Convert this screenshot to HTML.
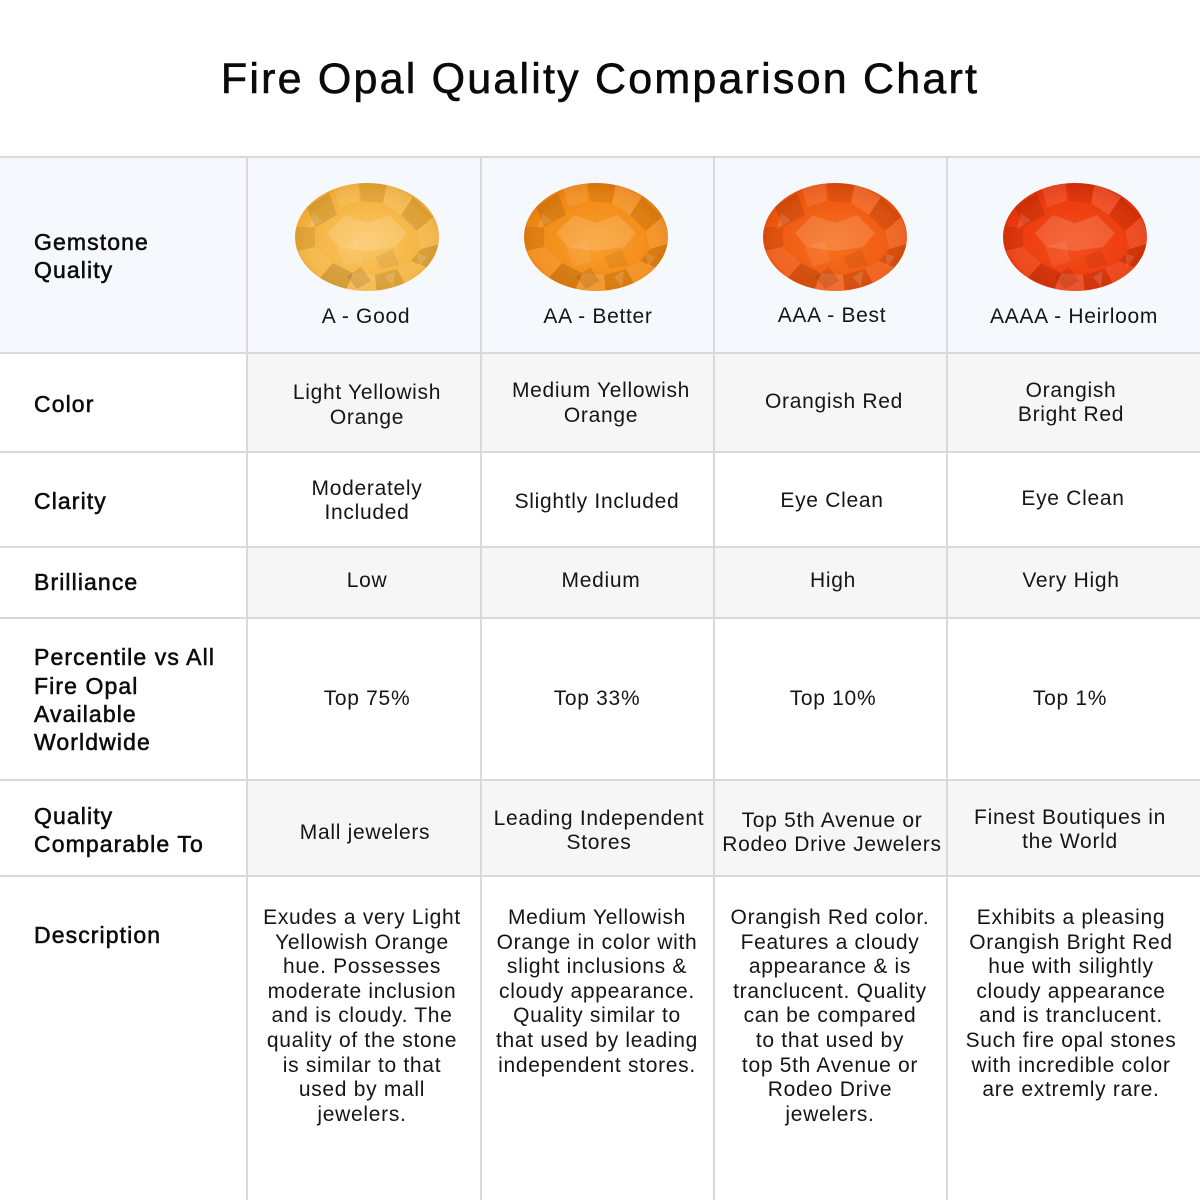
<!DOCTYPE html>
<html><head><meta charset="utf-8">
<style>
html,body{margin:0;padding:0;background:#fff;}
#w{position:relative;width:1200px;height:1200px;overflow:hidden;background:#fff;font-family:"Liberation Sans",sans-serif;color:#111;}
.bg{position:absolute;}
.h{position:absolute;left:0;width:1200px;height:2px;background:#d9d9d9;}
.v{position:absolute;top:156px;width:2px;height:1044px;background:#d9d9d9;}
.t{position:absolute;width:320px;height:24px;line-height:24px;text-align:center;font-size:21px;letter-spacing:0.7px;white-space:nowrap;color:#151515;}
.l{position:absolute;left:34px;height:28px;line-height:28px;font-size:23px;letter-spacing:1.1px;white-space:nowrap;color:#0c0c0c;-webkit-text-stroke:0.55px #0c0c0c;}
#title{position:absolute;left:0;top:54px;width:1200px;height:50px;line-height:50px;text-align:center;font-size:43px;letter-spacing:2.2px;color:#0a0a0a;-webkit-text-stroke:0.6px #0a0a0a;white-space:nowrap;}
</style></head>
<body><div id="w">
<div id="title">Fire Opal Quality Comparison Chart</div>

<div class="bg" style="left:0;top:157px;width:1200px;height:196px;background:#f5f8fd;"></div>
<div class="bg" style="left:247px;top:353px;width:953px;height:99px;background:#f6f6f6;"></div>
<div class="bg" style="left:247px;top:547px;width:953px;height:71px;background:#f6f6f6;"></div>
<div class="bg" style="left:247px;top:780px;width:953px;height:96px;background:#f6f6f6;"></div>

<div class="h" style="top:156px"></div>
<div class="h" style="top:352px"></div>
<div class="h" style="top:451px"></div>
<div class="h" style="top:546px"></div>
<div class="h" style="top:617px"></div>
<div class="h" style="top:779px"></div>
<div class="h" style="top:875px"></div>
<div class="v" style="left:246px"></div>
<div class="v" style="left:480px"></div>
<div class="v" style="left:713px"></div>
<div class="v" style="left:946px"></div>

<svg style="position:absolute;left:0;top:0" width="1200" height="400" viewBox="0 0 1200 400">
<defs>
<radialGradient id="g1" cx="50%" cy="55%" r="62%"><stop offset="0" stop-color="#fbc866"/><stop offset="0.7" stop-color="#f4b23e"/><stop offset="1" stop-color="#e39f28"/></radialGradient>
<radialGradient id="g2" cx="50%" cy="55%" r="62%"><stop offset="0" stop-color="#f9a030"/><stop offset="0.7" stop-color="#f28a14"/><stop offset="1" stop-color="#e0740a"/></radialGradient>
<radialGradient id="g3" cx="50%" cy="55%" r="62%"><stop offset="0" stop-color="#f6721f"/><stop offset="0.7" stop-color="#ef5810"/><stop offset="1" stop-color="#dc4608"/></radialGradient>
<radialGradient id="g4" cx="50%" cy="55%" r="62%"><stop offset="0" stop-color="#f4501c"/><stop offset="0.7" stop-color="#ec3a0c"/><stop offset="1" stop-color="#d52a06"/></radialGradient>
<clipPath id="cp"><ellipse cx="0" cy="0" rx="72" ry="54"/></clipPath>
<g id="fac" clip-path="url(#cp)">
<polygon points="-60,-30 -38,-44 -30,-22 -52,-10" fill="#000" opacity="0.10"/>
<polygon points="-34,-52 -10,-56 -8,-36 -28,-30" fill="#fff" opacity="0.10"/>
<polygon points="-8,-56 20,-54 16,-34 -6,-36" fill="#000" opacity="0.07"/>
<polygon points="20,-54 46,-40 34,-22 16,-34" fill="#fff" opacity="0.12"/>
<polygon points="46,-40 66,-20 50,-6 34,-22" fill="#000" opacity="0.09"/>
<polygon points="66,-20 76,6 54,12 50,-6" fill="#fff" opacity="0.10"/>
<polygon points="76,6 64,32 44,24 54,12" fill="#000" opacity="0.11"/>
<polygon points="64,32 40,50 30,32 44,24" fill="#fff" opacity="0.08"/>
<polygon points="40,50 10,58 8,38 30,32" fill="#000" opacity="0.10"/>
<polygon points="10,58 -22,56 -14,36 8,38" fill="#fff" opacity="0.12"/>
<polygon points="-22,56 -48,42 -34,26 -14,36" fill="#000" opacity="0.12"/>
<polygon points="-48,42 -70,14 -52,10 -34,26" fill="#fff" opacity="0.08"/>
<polygon points="-70,14 -74,-10 -52,-10 -52,10" fill="#000" opacity="0.08"/>
<polygon points="-40,-4 -22,-22 0,-14 22,-22 40,-4 28,10 0,14 -28,10" fill="#fff" opacity="0.14"/>
<polygon points="-30,10 -10,4 -4,24 -22,30" fill="#fff" opacity="0.08"/>
<polygon points="8,20 26,12 32,28 14,32" fill="#000" opacity="0.06"/>
<polygon points="-20,40 -6,30 4,44 -10,52" fill="#000" opacity="0.10"/>
<polygon points="18,40 28,34 26,50" fill="#fff" opacity="0.14"/>
<polygon points="-54,-24 -44,-16 -58,-8" fill="#fff" opacity="0.12"/>
<polygon points="50,16 60,20 52,30" fill="#fff" opacity="0.12"/>
</g>
</defs>
<g transform="translate(367,237)"><ellipse rx="72" ry="54" fill="url(#g1)"/><use href="#fac"/></g>
<g transform="translate(596,237)"><ellipse rx="72" ry="54" fill="url(#g2)"/><use href="#fac"/></g>
<g transform="translate(835,237)"><ellipse rx="72" ry="54" fill="url(#g3)"/><use href="#fac"/></g>
<g transform="translate(1075,237)"><ellipse rx="72" ry="54" fill="url(#g4)"/><use href="#fac"/></g>
</svg>

<!-- labels -->
<div class="l" style="top:228px">Gemstone</div>
<div class="l" style="top:256px">Quality</div>
<div class="l" style="top:390px">Color</div>
<div class="l" style="top:487px">Clarity</div>
<div class="l" style="top:568px">Brilliance</div>
<div class="l" style="top:643px">Percentile vs All</div>
<div class="l" style="top:672px">Fire Opal</div>
<div class="l" style="top:700px">Available</div>
<div class="l" style="top:728px">Worldwide</div>
<div class="l" style="top:802px">Quality</div>
<div class="l" style="top:830px">Comparable To</div>
<div class="l" style="top:921px">Description</div>

<!-- header grades -->
<div class="t" style="left:206px;top:305px">A - Good</div>
<div class="t" style="left:438px;top:305px">AA - Better</div>
<div class="t" style="left:672px;top:304px">AAA - Best</div>
<div class="t" style="left:914px;top:305px">AAAA - Heirloom</div>

<!-- color -->
<div class="t" style="left:207px;top:381px">Light Yellowish</div>
<div class="t" style="left:207px;top:406px">Orange</div>
<div class="t" style="left:441px;top:379px">Medium Yellowish</div>
<div class="t" style="left:441px;top:404px">Orange</div>
<div class="t" style="left:674px;top:390px">Orangish Red</div>
<div class="t" style="left:911px;top:379px">Orangish</div>
<div class="t" style="left:911px;top:403px">Bright Red</div>

<!-- clarity -->
<div class="t" style="left:207px;top:477px">Moderately</div>
<div class="t" style="left:207px;top:501px">Included</div>
<div class="t" style="left:437px;top:490px">Slightly Included</div>
<div class="t" style="left:672px;top:489px">Eye Clean</div>
<div class="t" style="left:913px;top:487px">Eye Clean</div>

<!-- brilliance -->
<div class="t" style="left:207px;top:569px">Low</div>
<div class="t" style="left:441px;top:569px">Medium</div>
<div class="t" style="left:673px;top:569px">High</div>
<div class="t" style="left:911px;top:569px">Very High</div>

<!-- percentile -->
<div class="t" style="left:207px;top:687px">Top 75%</div>
<div class="t" style="left:437px;top:687px">Top 33%</div>
<div class="t" style="left:673px;top:687px">Top 10%</div>
<div class="t" style="left:910px;top:687px">Top 1%</div>

<!-- quality comparable -->
<div class="t" style="left:205px;top:821px">Mall jewelers</div>
<div class="t" style="left:439px;top:807px">Leading Independent</div>
<div class="t" style="left:439px;top:831px">Stores</div>
<div class="t" style="left:672px;top:809px">Top 5th Avenue or</div>
<div class="t" style="left:672px;top:833px">Rodeo Drive Jewelers</div>
<div class="t" style="left:910px;top:806px">Finest Boutiques in</div>
<div class="t" style="left:910px;top:830px">the World</div>

<!-- description col1 -->
<div class="t" style="left:202px;top:906px">Exudes a very Light</div>
<div class="t" style="left:202px;top:931px">Yellowish Orange</div>
<div class="t" style="left:202px;top:955px">hue. Possesses</div>
<div class="t" style="left:202px;top:980px">moderate inclusion</div>
<div class="t" style="left:202px;top:1004px">and is cloudy. The</div>
<div class="t" style="left:202px;top:1029px">quality of the stone</div>
<div class="t" style="left:202px;top:1054px">is similar to that</div>
<div class="t" style="left:202px;top:1078px">used by mall</div>
<div class="t" style="left:202px;top:1103px">jewelers.</div>

<!-- description col2 -->
<div class="t" style="left:437px;top:906px">Medium Yellowish</div>
<div class="t" style="left:437px;top:931px">Orange in color with</div>
<div class="t" style="left:437px;top:955px">slight inclusions &amp;</div>
<div class="t" style="left:437px;top:980px">cloudy appearance.</div>
<div class="t" style="left:437px;top:1004px">Quality similar to</div>
<div class="t" style="left:437px;top:1029px">that used by leading</div>
<div class="t" style="left:437px;top:1054px">independent stores.</div>

<!-- description col3 -->
<div class="t" style="left:670px;top:906px">Orangish Red color.</div>
<div class="t" style="left:670px;top:931px">Features a cloudy</div>
<div class="t" style="left:670px;top:955px">appearance &amp; is</div>
<div class="t" style="left:670px;top:980px">tranclucent. Quality</div>
<div class="t" style="left:670px;top:1004px">can be compared</div>
<div class="t" style="left:670px;top:1029px">to that used by</div>
<div class="t" style="left:670px;top:1054px">top 5th Avenue or</div>
<div class="t" style="left:670px;top:1078px">Rodeo Drive</div>
<div class="t" style="left:670px;top:1103px">jewelers.</div>

<!-- description col4 -->
<div class="t" style="left:911px;top:906px">Exhibits a pleasing</div>
<div class="t" style="left:911px;top:931px">Orangish Bright Red</div>
<div class="t" style="left:911px;top:955px">hue with silightly</div>
<div class="t" style="left:911px;top:980px">cloudy appearance</div>
<div class="t" style="left:911px;top:1004px">and is tranclucent.</div>
<div class="t" style="left:911px;top:1029px">Such fire opal stones</div>
<div class="t" style="left:911px;top:1054px">with incredible color</div>
<div class="t" style="left:911px;top:1078px">are extremly rare.</div>
</div></body></html>
